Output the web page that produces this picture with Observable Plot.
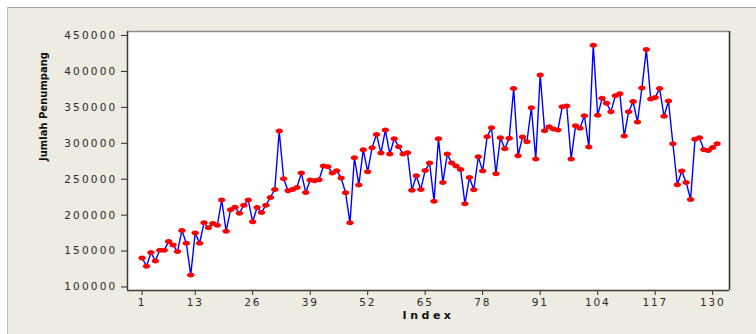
<!DOCTYPE html>
<html>
<head>
<meta charset="utf-8">
<script src="https://cdn.jsdelivr.net/npm/d3@7"></script>
<script src="https://cdn.jsdelivr.net/npm/@observablehq/plot@0.6"></script>
<style>
  html, body { margin: 0; padding: 0; background: #ffffff; }
  #wrap { position: relative; width: 756px; height: 334px; overflow: hidden; }
  #panel { position: absolute; left: 7px; top: 7px; right: 0; bottom: 0;
           background: #eeebe2; border-top: 1px solid #a3a3a3; border-left: 1px solid #c4c4c4; }
  #chart { position: absolute; left: 0; top: 0; }
  g[aria-label="y-axis tick label"] text { letter-spacing: 2.2px; }
  g[aria-label="x-axis tick label"] text { letter-spacing: 1.8px; }
</style>
</head>
<body>
<div id="wrap"><div id="panel"></div><div id="chart"></div></div>
<script>
// Jumlah Penumpang per Index (1..131)
const penumpang = [
  140500, 128900, 147900, 136300, 151200, 151200, 163200, 158600, 149300, 178600,
  160900, 116800, 175300, 160900, 189300, 182300, 188300, 186000, 220900, 177700,
  207400, 211100, 202700, 213900, 220900, 190700, 210600, 203700, 213900, 224600,
  235700, 317100, 250600, 233900, 235700, 238500, 258500, 231600, 248800, 247800,
  249200, 268300, 267400, 258500, 261800, 251600, 231100, 189300, 279900, 241800,
  291100, 260400, 293800, 312400, 286400, 318500, 285000, 306400, 295200, 285000,
  286900, 234800, 254800, 235700, 262200, 272500, 219500, 306400, 245500, 285000,
  272500, 268300, 263600, 215800, 252500, 235300, 281300, 261300, 309200, 321700,
  257600, 307800, 292400, 306900, 376100, 282700, 308700, 302200, 349600, 278000,
  395200, 317500, 323100, 319900, 318500, 351000, 351900, 278000, 324500, 320800,
  338500, 294800, 436500, 338900, 362600, 355700, 344000, 366300, 369100, 310100,
  344000, 358000, 329600, 377000, 430500, 361700, 363600, 376100, 337500, 358900,
  299400, 242300, 261300, 245500, 221800, 305500, 307800, 291100, 290100, 294300,
  299400
];
const indexValues = penumpang.map((_, i) => i + 1);
const xTicks = [1, 13, 26, 39, 52, 65, 78, 91, 104, 117, 130];
const yTicks = [100000, 150000, 200000, 250000, 300000, 350000, 400000, 450000];
const xDomain = [-2.3, 133.8];
const yDomain = [95120, 455580];
const yLabel = "Jumlah Penumpang";
const xLabel = "Index";

const data = indexValues.map((x, i) => ({index: x, value: penumpang[i]}));

// red ellipse marker (wider than tall)
const ellipse = {
  draw(ctx) {
    const a = 3.7, b = 2.5, k = 0.5523;
    ctx.moveTo(a, 0);
    ctx.bezierCurveTo(a, k * b, k * a, b, 0, b);
    ctx.bezierCurveTo(-k * a, b, -a, k * b, -a, 0);
    ctx.bezierCurveTo(-a, -k * b, -k * a, -b, 0, -b);
    ctx.bezierCurveTo(k * a, -b, a, -k * b, a, 0);
    ctx.closePath();
  }
};

const svg = Plot.plot({
  width: 756,
  height: 334,
  marginLeft: 127,
  marginRight: 27,
  marginTop: 31,
  marginBottom: 44,
  x: {domain: xDomain},
  y: {domain: yDomain},
  style: {background: "transparent", fontFamily: "'DejaVu Sans', Verdana, sans-serif", overflow: "visible"},
  marks: [
    Plot.frame({fill: "white", stroke: null}),
    Plot.axisY(yTicks, {tickSize: 6, tickPadding: 4, tickFormat: d => String(d), fontSize: 10.5, color: "#2a2a2a", label: null}),
    Plot.axisX(xTicks, {tickSize: 5, tickPadding: 3, tickFormat: d => String(d), fontSize: 10.5, color: "#2a2a2a", label: null}),
    Plot.line(data, {x: "index", y: "value", stroke: "#0000ff", strokeWidth: 1.4}),
    Plot.dot(data, {x: "index", y: "value", symbol: ellipse, r: 3, fill: "#ff0000", stroke: null}),
    Plot.ruleY([yDomain[1]], {stroke: "#8c8c8c", strokeWidth: 1.5}),
    Plot.ruleY([yDomain[0]], {stroke: "#3a3a3a", strokeWidth: 1.5}),
    Plot.ruleX([xDomain[0]], {stroke: "#3a3a3a", strokeWidth: 1.5}),
    Plot.ruleX([xDomain[1]], {stroke: "#2a2a2a", strokeWidth: 1.5}),
    Plot.text([yLabel], {frameAnchor: "left", dx: -84, rotate: -90, fontWeight: "bold", fontSize: 10, fill: "#111"}),
    Plot.text([xLabel], {frameAnchor: "bottom", dy: 28.5, fontWeight: "bold", fontSize: 11, fill: "#111"})
  ]
});

d3.select(svg).selectAll("text").each(function() {
  if (this.textContent === xLabel) this.style.letterSpacing = "3.5px";
});

document.getElementById("chart").appendChild(svg);
</script>
</body>
</html>
